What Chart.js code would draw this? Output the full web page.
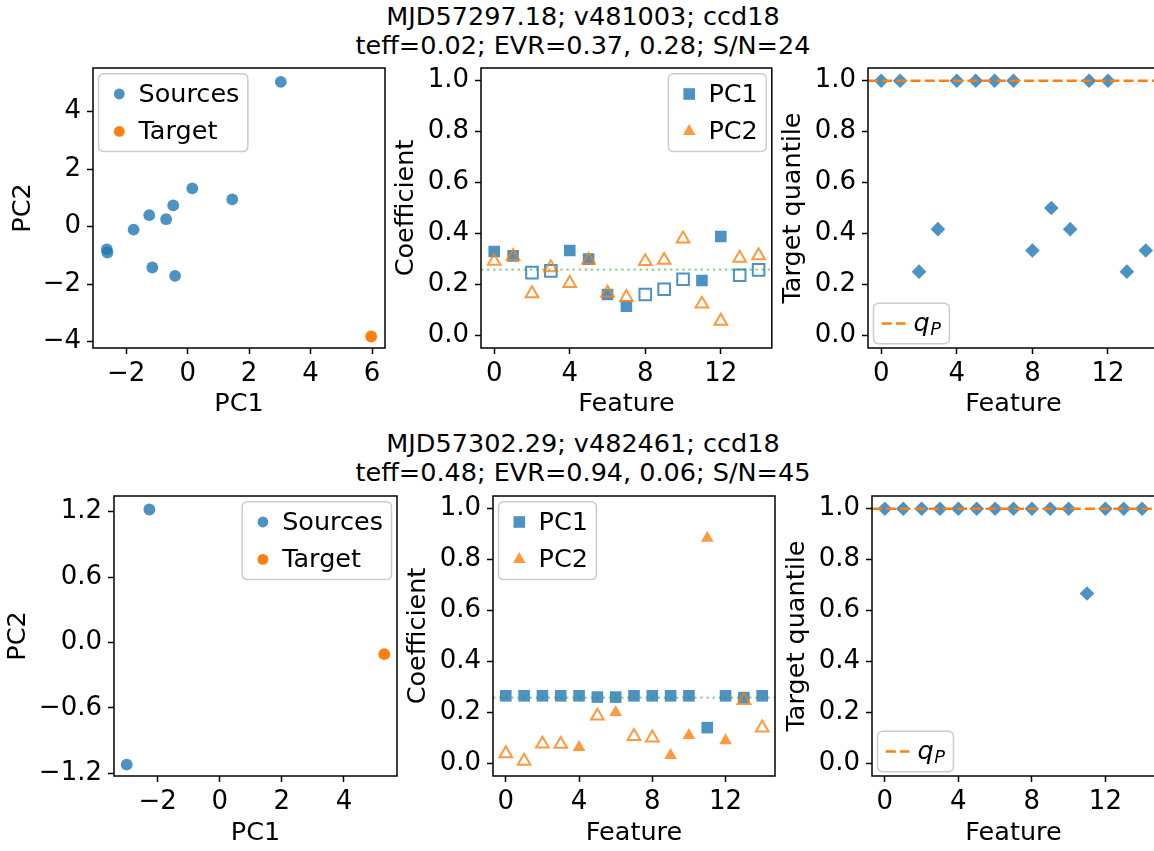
<!DOCTYPE html>
<html>
<head>
<meta charset="utf-8">
<script src="https://cdn.jsdelivr.net/npm/chart.js@4.4.1/dist/chart.umd.min.js"></script>
<style>
	body { margin: 0; width: 1154px; height: 851px; overflow: hidden; background: #fff; position: relative; font-family: "DejaVu Sans"; }
	canvas { position: absolute; }
	.ttl { position: absolute; left: 0; width: 1166px; text-align: center; font-size: 25.5px; line-height: 28.7px; color: #000; white-space: nowrap; }
</style>
</head>
<body>
<div class="ttl" style="top:2px">MJD57297.18; v481003; ccd18<br>teff=0.02; EVR=0.37, 0.28; S/N=24</div>
<div class="ttl" style="top:429px">MJD57302.29; v482461; ccd18<br>teff=0.48; EVR=0.94, 0.06; S/N=45</div>
<canvas id="pcaTop"></canvas>
<canvas id="coefTop"></canvas>
<canvas id="quantTop"></canvas>
<canvas id="pcaBot"></canvas>
<canvas id="coefBot"></canvas>
<canvas id="quantBot"></canvas>
<script>
"use strict";

// ---- data: top exposure ----
var features = [0, 1, 2, 3, 4, 5, 6, 7, 8, 9, 10, 11, 12, 13, 14];

var srcTopX = [3.03, 0.15, 1.45, -0.47, -1.25, -0.70, -1.76, -2.63, -2.61, -1.15, -0.41];
var srcTopY = [5.04, 1.33, 0.95, 0.74, 0.40, 0.26, -0.10, -0.79, -0.90, -1.42, -1.71];
var tgtTopX = [5.97];
var tgtTopY = [-3.82];

// signed coefficients: filled marker = positive, open marker = negative
var pc1Top = [0.329, 0.312, -0.246, -0.253, 0.333, 0.299, 0.160, 0.114, -0.160, -0.181, -0.220, 0.215, 0.388, -0.236, -0.257];
var pc2Top = [-0.291, -0.310, -0.164, -0.266, -0.204, -0.295, -0.166, -0.149, -0.290, -0.295, -0.379, -0.123, -0.056, -0.303, -0.313];

var quantTop = [1, 1, 0.25, 0.417, 1, 1, 1, 1, 0.333, 0.5, 0.417, 1, 1, 0.25, 0.333];

// ---- data: bottom exposure ----
var srcBotX = [-2.27, -3.00];
var srcBotY = [1.22, -1.12];
var tgtBotX = [5.30];
var tgtBotY = [-0.107];

var pc1Bot = [0.265, 0.265, 0.265, 0.265, 0.265, 0.260, 0.260, 0.265, 0.265, 0.265, 0.265, 0.140, 0.265, 0.258, 0.265];
var pc2Bot = [-0.038, -0.009, -0.076, -0.075, 0.063, -0.186, 0.200, -0.106, -0.100, 0.031, 0.110, 0.885, 0.089, -0.247, -0.139];

var quantBot = [1, 1, 1, 1, 1, 1, 1, 1, 1, 1, 1, 0.667, 1, 1, 1];

var qP = 1.0;          // q_P reference line
var equalCoef = 0.258; // green dotted level

// ---- tick labels ----
var pcTopXTicks = [-2, 0, 2, 4, 6];
var pcTopYTicks = [-4, -2, 0, 2, 4];
var pcBotXTicks = [-2, 0, 2, 4];
var pcBotYTicks = [-1.2, -0.6, 0, 0.6, 1.2];
var featureTicks = [0, 4, 8, 12];
var unitTicks = [0, 0.2, 0.4, 0.6, 0.8, 1.0];

// ---- styles ----
var blue = 'rgba(31,119,180,0.8)';
var orange = 'rgba(255,127,14,0.8)';
var orangeSolid = '#ff7f0e';
var greenDot = 'rgba(44,160,44,0.5)';
var FS = 25.5;

Chart.defaults.font.family = '"DejaVu Sans"';
Chart.defaults.font.size = FS;
Chart.defaults.color = '#000';

function fmt(v, dec) {
	return v.toFixed(dec).replace('-', '\u2212');
}

function axis(title, min, max, ticks, dec, pad) {
	return {
		type: 'linear',
		min: min,
		max: max,
		afterBuildTicks: function (s) { s.ticks = ticks.map(function (v) { return { value: v }; }); },
		ticks: { font: { size: 26 }, padding: pad, maxRotation: 0, autoSkip: false, color: '#000',
			callback: function (v) { return fmt(v, dec); } },
		grid: { drawOnChartArea: false, drawTicks: true, tickLength: 6, tickWidth: 1.5, tickColor: '#000' },
		border: { display: false },
		title: { display: true, text: title, font: { size: FS }, padding: 0, color: '#000' }
	};
}

function xy(xs, ys) {
	return xs.map(function (x, i) { return { x: x, y: ys[i] }; });
}

function coefSet(label, vals, style, color, r, order) {
	return {
		label: label,
		order: order,
		pointStyle: style,
		pointRadius: r,
		data: features.map(function (f, i) { return { x: f, y: Math.abs(vals[i]) }; }),
		backgroundColor: function (c) { return vals[c.dataIndex] >= 0 ? color : 'rgba(0,0,0,0)'; },
		borderColor: color,
		borderWidth: function (c) { return vals[c.dataIndex] >= 0 ? 0 : 2; }
	};
}

// ---- legend / spines / reference lines ----
function labelWidth(ctx, text) {
	var parts = text.split('_');
	if (parts.length === 1) {
		ctx.font = FS + 'px "DejaVu Sans"';
		return ctx.measureText(text).width;
	}
	ctx.font = 'italic ' + FS + 'px "DejaVu Sans"';
	var w = ctx.measureText(parts[0]).width;
	ctx.font = 'italic ' + (FS * 0.7) + 'px "DejaVu Sans"';
	return w + 0.5 + ctx.measureText(parts[1]).width;
}

function drawLabel(ctx, text, x, base) {
	var parts = text.split('_');
	ctx.fillStyle = '#000';
	ctx.textAlign = 'left';
	ctx.textBaseline = 'alphabetic';
	if (parts.length === 1) {
		ctx.font = FS + 'px "DejaVu Sans"';
		ctx.fillText(text, x, base);
		return;
	}
	ctx.font = 'italic ' + FS + 'px "DejaVu Sans"';
	ctx.fillText(parts[0], x, base);
	var w = ctx.measureText(parts[0]).width;
	ctx.font = 'italic ' + (FS * 0.7) + 'px "DejaVu Sans"';
	ctx.fillText(parts[1], x + w + 0.5, base + 4);
}

function drawLegend(chart, corner, lines) {
	var ctx = chart.ctx, a = chart.chartArea;
	var items = [];
	chart.data.datasets.forEach(function (ds) {
		if (ds.label) items.push({ label: ds.label, style: ds.pointStyle, radius: ds.legendRadius || ds.pointRadius, color: ds.borderColor });
	});
	(lines || []).forEach(function (l) {
		if (l.label) items.push({ label: l.label, line: l });
	});
	if (!items.length) return;
	ctx.save();
	var tw = Math.max.apply(null, items.map(function (it) { return labelWidth(ctx, it.label); }));
	var w = 40 + tw + 8.5, h = 3 + 37.4 * items.length;
	var x = corner[1] === 'l' ? a.left + 5.5 : a.right - 5.5 - w;
	var y = corner[0] === 'u' ? a.top + 5.8 : a.bottom - 4.3 - h;
	ctx.beginPath();
	ctx.roundRect(x, y, w, h, 5);
	ctx.fillStyle = 'rgba(255,255,255,0.8)';
	ctx.fill();
	ctx.lineWidth = 1.5;
	ctx.strokeStyle = '#cccccc';
	ctx.stroke();
	items.forEach(function (it, i) {
		var cy = y + 20.2 + 37.4 * i;
		if (it.line) {
			ctx.beginPath();
			ctx.setLineDash(it.line.dash);
			ctx.lineWidth = it.line.width;
			ctx.strokeStyle = it.line.color;
			ctx.moveTo(x + 8.3, cy);
			ctx.lineTo(x + 32, cy);
			ctx.stroke();
			ctx.setLineDash([]);
		} else {
			ctx.fillStyle = it.color;
			Chart.helpers.drawPoint(ctx, { pointStyle: it.style, radius: it.radius, borderWidth: 0, rotation: 0 }, x + 20.8, cy);
		}
		drawLabel(ctx, it.label, x + 40, cy + 7.5);
	});
	ctx.restore();
}

var framePlugin = {
	id: 'frame',
	afterDatasetsDraw: function (chart, args, opts) {
		var ctx = chart.ctx, a = chart.chartArea, ys = chart.scales.y;
		(opts.lines || []).forEach(function (l) {
			var py = ys.getPixelForValue(l.value);
			ctx.save();
			ctx.beginPath();
			ctx.setLineDash(l.dash);
			ctx.lineWidth = l.width;
			ctx.strokeStyle = l.color;
			ctx.moveTo(a.left, py);
			ctx.lineTo(a.right, py);
			ctx.stroke();
			ctx.restore();
		});
	},
	afterDraw: function (chart, args, opts) {
		var ctx = chart.ctx, a = chart.chartArea;
		ctx.save();
		ctx.lineWidth = 1.5;
		ctx.strokeStyle = '#000';
		ctx.strokeRect(a.left, a.top, a.right - a.left, a.bottom - a.top);
		ctx.restore();
		if (opts.corner) drawLegend(chart, opts.corner, opts.lines);
	}
};

// place a canvas so the plot area lands on geo (page pixels)
function makePanel(id, geo, datasets, xAxis, yAxis, frame) {
	var cv = document.getElementById(id);
	var half = FS * 1.2 / 2;
	var x0 = Math.floor(geo.yTitle - half), pl = geo.yTitle - half - x0;
	var y0 = geo.top - 12;
	var x1 = Math.ceil(geo.right + 10), y1 = Math.ceil(geo.xTitle + half);
	cv.width = x1 - x0;
	cv.height = y1 - y0;
	cv.style.left = x0 + 'px';
	cv.style.top = y0 + 'px';
	yAxis.afterFit = function (s) { s.width = geo.left - (x0 + pl); s.paddingTop = 0; s.paddingBottom = 0; };
	xAxis.afterFit = function (s) { s.height = geo.xTitle + half - geo.bottom; s.paddingLeft = 0; s.paddingRight = 0; };
	return new Chart(cv, {
		type: 'scatter',
		data: { datasets: datasets },
		options: {
			responsive: false,
			animation: false,
			events: [],
			layout: { padding: { left: pl, top: 12, right: x1 - geo.right, bottom: y1 - (geo.xTitle + half) } },
			scales: { x: xAxis, y: yAxis },
			plugins: { legend: { display: false }, tooltip: { enabled: false }, frame: frame }
		},
		plugins: [framePlugin]
	});
}

var qLine = { value: qP, color: orangeSolid, width: 2.7, dash: [10, 4.2], label: 'q_P' };
var gLine = { value: equalCoef, color: greenDot, width: 2.3, dash: [2.3, 3.8] };

// ---- top row ----
makePanel('pcaTop', { left: 93, top: 68, right: 385, bottom: 348, yTitle: 22.9, xTitle: 403.9 }, [
	{ label: 'Sources', order: 1, data: xy(srcTopX, srcTopY), pointStyle: 'circle', pointRadius: 5.9, legendRadius: 5.4, backgroundColor: blue, borderColor: blue, borderWidth: 0 },
	{ label: 'Target', order: 0, data: xy(tgtTopX, tgtTopY), pointStyle: 'circle', pointRadius: 5.9, legendRadius: 5.4, backgroundColor: orangeSolid, borderColor: orangeSolid, borderWidth: 0 }
], axis('PC1', -3.08, 6.42, pcTopXTicks, 0, 5), axis('PC2', -4.22, 5.52, pcTopYTicks, 0, 6), { corner: 'ul' });

makePanel('coefTop', { left: 481, top: 68, right: 772, bottom: 348, yTitle: 406.7, xTitle: 403.9 }, [
	coefSet('PC1', pc1Top, 'rect', blue, 8.2, 1),
	coefSet('PC2', pc2Top, 'triangle', orange, 7.3, 0)
], axis('Feature', -0.7, 14.7, featureTicks, 0, 5), axis('Coefficient', -0.05, 1.05, unitTicks, 1, 6), { corner: 'ur', lines: [gLine] });

makePanel('quantTop', { left: 868, top: 68, right: 1159, bottom: 348, yTitle: 793.2, xTitle: 403.9 }, [
	{ data: xy(features, quantTop), pointStyle: 'rectRot', pointRadius: 7.3, backgroundColor: blue, borderColor: blue, borderWidth: 0 }
], axis('Feature', -0.7, 14.7, featureTicks, 0, 5), axis('Target quantile', -0.05, 1.05, unitTicks, 1, 6), { corner: 'll', lines: [qLine] });

// ---- bottom row ----
makePanel('pcaBot', { left: 114, top: 496, right: 397, bottom: 776, yTitle: 18.5, xTitle: 832.9 }, [
	{ label: 'Sources', order: 1, data: xy(srcBotX, srcBotY), pointStyle: 'circle', pointRadius: 5.9, legendRadius: 5.4, backgroundColor: blue, borderColor: blue, borderWidth: 0 },
	{ label: 'Target', order: 0, data: xy(tgtBotX, tgtBotY), pointStyle: 'circle', pointRadius: 5.9, legendRadius: 5.4, backgroundColor: orangeSolid, borderColor: orangeSolid, borderWidth: 0 }
], axis('PC1', -3.41, 5.71, pcBotXTicks, 0, 5), axis('PC2', -1.225, 1.344, pcBotYTicks, 1, 6), { corner: 'ur' });

makePanel('coefBot', { left: 493, top: 496, right: 775, bottom: 776, yTitle: 418.7, xTitle: 832.9 }, [
	coefSet('PC1', pc1Bot, 'rect', blue, 8.2, 1),
	coefSet('PC2', pc2Bot, 'triangle', orange, 7.3, 0)
], axis('Feature', -0.7, 14.7, featureTicks, 0, 5), axis('Coefficient', -0.05, 1.05, unitTicks, 1, 6), { corner: 'ul', lines: [gLine] });

makePanel('quantBot', { left: 872, top: 496, right: 1155, bottom: 776, yTitle: 796.9, xTitle: 832.9 }, [
	{ data: xy(features, quantBot), pointStyle: 'rectRot', pointRadius: 7.3, backgroundColor: blue, borderColor: blue, borderWidth: 0 }
], axis('Feature', -0.7, 14.7, featureTicks, 0, 5), axis('Target quantile', -0.05, 1.05, unitTicks, 1, 6), { corner: 'll', lines: [qLine] });
</script>
</body>
</html>
